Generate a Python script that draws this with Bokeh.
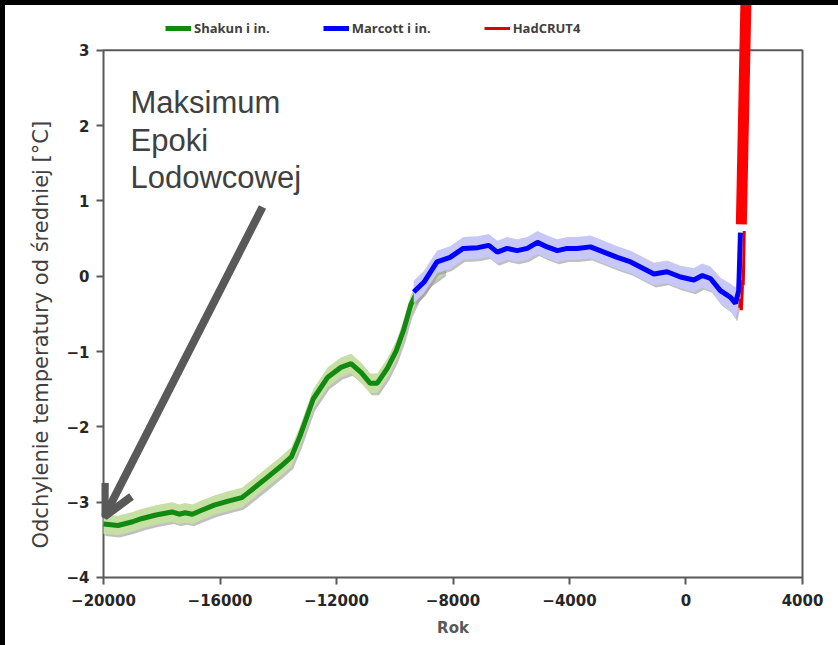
import numpy as np
from bokeh.plotting import figure
from bokeh.models import (ColumnDataSource, Range1d, FixedTicker, BoxAnnotation, Label, Title,
                          Arrow, OpenHead, Legend, LegendItem, BasicTickFormatter)
from bokeh.embed import file_html
from bokeh.resources import INLINE

# --- Shakun i in. (years, temperature anomaly in degC) ---
shakun_year = [-20000, -19500, -19000, -18700, -18200, -17650, -17400, -17200, -16950, -16650,
               -16200, -15750, -15250, -15050, -14500, -13900, -13550, -13250, -12800, -12300,
               -11850, -11500, -11150, -10850, -10600, -10250, -9950, -9700, -9450, -9200,
               -8800, -8300]
shakun_temp = [-3.29, -3.31, -3.26, -3.22, -3.17, -3.13, -3.16, -3.14, -3.16, -3.11,
               -3.04, -2.99, -2.94, -2.88, -2.71, -2.52, -2.40, -2.12, -1.63, -1.34,
               -1.21, -1.16, -1.28, -1.42, -1.42, -1.22, -0.99, -0.72, -0.38, -0.18,
               0.02, 0.16]
shakun_err = 0.13

# --- Marcott i in. ---
marcott_year = [-9350, -9000, -8550, -8100, -7650, -7150, -6770, -6480, -6140, -5800,
                -5450, -5100, -4770, -4420, -4080, -3740, -3280, -2820, -2360, -1900,
                -1450, -1100, -650, -190, 270, 560, 840, 1180, 1530, 1700, 1810, 1870]
marcott_temp = [-0.21, -0.08, 0.19, 0.25, 0.37, 0.38, 0.41, 0.32, 0.37, 0.34,
                0.37, 0.45, 0.39, 0.34, 0.37, 0.37, 0.39, 0.32, 0.25, 0.19,
                0.10, 0.03, 0.06, -0.01, -0.05, 0.01, -0.03, -0.19, -0.28, -0.36, -0.19, 0.58]
marcott_err = [0.15, 0.15, 0.15, 0.15, 0.15, 0.15, 0.15, 0.15, 0.15, 0.15,
               0.15, 0.15, 0.15, 0.15, 0.15, 0.15, 0.15, 0.15, 0.15, 0.15,
               0.15, 0.15, 0.15, 0.15, 0.16, 0.16, 0.16, 0.17, 0.18, 0.21, 0.19, 0.08]

# --- HadCRUT4 instrumental record and its continuation ---
hadcrut_year = [1845, 1870, 1900, 1925, 1945, 1965, 1985, 2000]
hadcrut_temp = [-0.42, -0.30, -0.45, -0.25, -0.05, -0.12, 0.25, 0.60]
projection_year = [1900, 2100]
projection_temp = [0.69, 4.45]

x_ticks = [-20000, -16000, -12000, -8000, -4000, 0, 4000]
y_ticks = [3, 2, 1, 0, -1, -2, -3, -4]

annotation_text = "Maksimum\nEpoki\nLodowcowej"
x_title = "Rok"
y_title = "Odchylenie temperatury od średniej [°C]"

AXIS_GREY = "#595959"

# ------------------------------------------------------------------
sh_x = np.array(shakun_year, dtype=float)
sh_y = np.array(shakun_temp)
mc_x = np.array(marcott_year, dtype=float)
mc_y = np.array(marcott_temp)
mc_e = np.array(marcott_err)

sh_src = ColumnDataSource(dict(x=sh_x, y=sh_y, lo=sh_y - shakun_err, hi=sh_y + shakun_err,
                               xs=sh_x + 60, los=sh_y - shakun_err - 0.03, his=sh_y + shakun_err - 0.03))
mc_src = ColumnDataSource(dict(x=mc_x, y=mc_y, lo=mc_y - mc_e, hi=mc_y + mc_e,
                               xs=mc_x + 60, los=mc_y - mc_e - 0.03, his=mc_y + mc_e - 0.03))
hc_src = ColumnDataSource(dict(x=hadcrut_year, y=hadcrut_temp))
pr_src = ColumnDataSource(dict(x=projection_year, y=projection_temp))

p = figure(width=838, height=645,
           x_range=Range1d(-20068.7, 4068.7), y_range=Range1d(-4.027, 3.662),
           output_backend="svg", toolbar_location=None,
           min_border_left=101, min_border_right=34, min_border_top=0, min_border_bottom=66)
p.outline_line_color = None
p.background_fill_color = "white"
p.border_fill_color = "white"
p.xgrid.visible = False
p.ygrid.visible = False

# plot box
p.add_layout(BoxAnnotation(left=-20000, right=4000, bottom=-4, top=3,
                           fill_alpha=0, line_color=AXIS_GREY, line_alpha=1, line_width=2,
                           level="underlay"))

# uncertainty bands with a faint drop shadow
p.varea(x="xs", y1="los", y2="his", source=sh_src, fill_color="#8c8c8c", fill_alpha=0.55)
p.varea(x="x", y1="lo", y2="hi", source=sh_src, fill_color="#c6dfa3")
g_line = p.line("x", "y", source=sh_src, line_color="#128a12", line_width=5)

p.varea(x="xs", y1="los", y2="his", source=mc_src, fill_color="#8c8c8c", fill_alpha=0.55)
p.varea(x="x", y1="lo", y2="hi", source=mc_src, fill_color="#c8c8f8")
b_line = p.line("x", "y", source=mc_src, line_color="#0000ff", line_width=5)

r_line = p.line("x", "y", source=hc_src, line_color="#e00000", line_width=3)
p.line("x", "y", source=pr_src, line_color="#ff0000", line_width=11)

# axes
for ax in (p.xaxis[0], p.yaxis[0]):
    ax.axis_line_color = None
    ax.major_tick_line_color = AXIS_GREY
    ax.major_tick_line_width = 2
    ax.major_tick_in = 2
    ax.major_tick_out = 5
    ax.minor_tick_line_color = None
    ax.major_label_text_font = "DejaVu Sans"
    ax.major_label_text_font_style = "bold"
    ax.major_label_text_font_size = "15px"
    ax.major_label_text_color = "#262626"
    ax.formatter = BasicTickFormatter(use_scientific=False)

p.xaxis.ticker = FixedTicker(ticks=x_ticks)
p.yaxis.ticker = FixedTicker(ticks=y_ticks)
p.xaxis.major_label_standoff = 9
p.yaxis.major_label_standoff = 7
p.xaxis.axis_label = x_title
p.xaxis.axis_label_text_font = "DejaVu Sans"
p.xaxis.axis_label_text_font_style = "bold"
p.xaxis.axis_label_text_font_size = "15px"
p.xaxis.axis_label_text_color = AXIS_GREY
p.xaxis.axis_label_standoff = 10

# vertical axis title, set as a side title so it can start above the bottom of the frame
p.add_layout(Title(text=y_title, align="left", offset=31, standoff=22,
                   text_font="DejaVu Sans", text_font_size="21px", text_font_style="normal",
                   text_color="#404040"), "left")

# annotation pointing at the glacial maximum
p.add_layout(Label(x=-19073, y=2.535, text=annotation_text, text_align="left", text_baseline="top",
                   text_font="Liberation Sans", text_font_size="31px", text_color="#404040",
                   text_line_height=1.07))
p.add_layout(Arrow(x_start=-14540, y_start=0.92, x_end=-19966, y_end=-3.19,
                   line_color=AXIS_GREY, line_width=8,
                   end=OpenHead(size=30, line_color=AXIS_GREY, line_width=8)))

legend = Legend(items=[LegendItem(label="Shakun i in.", renderers=[g_line]),
                       LegendItem(label="Marcott i in.", renderers=[b_line]),
                       LegendItem(label="HadCRUT4", renderers=[r_line])],
                orientation="horizontal", location=(64, 541),
                padding=0, margin=0, spacing=53, glyph_width=26, glyph_height=20,
                label_height=20, label_standoff=3,
                label_text_font="Open Sans", label_text_font_style="bold",
                label_text_font_size="13px", label_text_color="#404040",
                border_line_color=None, background_fill_alpha=0)
p.add_layout(legend)

# thin dark edges along the top and left of the page, laid over the plot
page_css = ("<style>"
            "html, body { margin: 0; padding: 0; overflow: hidden; background-color: #ffffff; }"
            ".edge { position: fixed; left: 0; top: 0; background-color: #000000; z-index: 1000; }"
            "</style>\n</head>")
edges = ('<div class="edge" style="width: 100%; height: 5px;"></div>'
         '<div class="edge" style="width: 5px; height: 100%;"></div>\n</body>')
html = file_html(p, INLINE)
html = html.replace("</head>", page_css, 1).replace("</body>", edges, 1)
open("out.html", "w").write(html)
